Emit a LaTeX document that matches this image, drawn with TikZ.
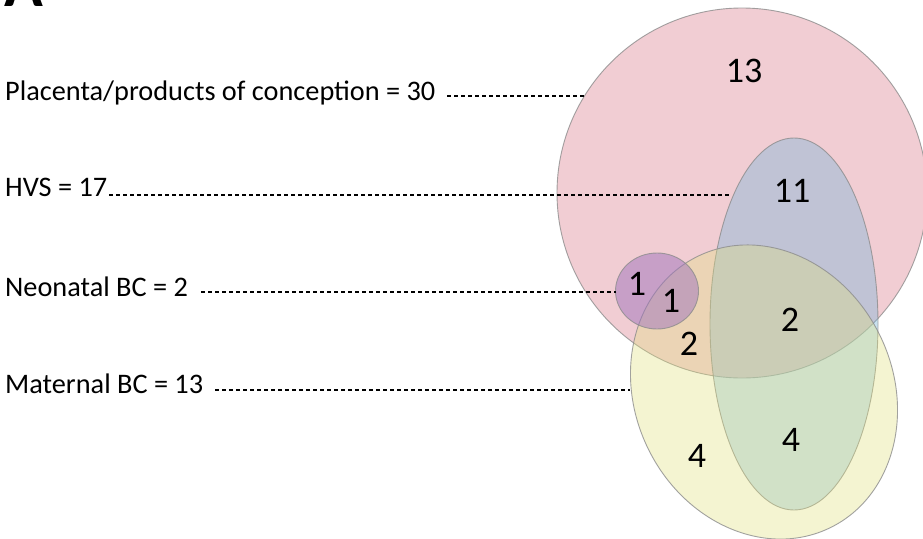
\documentclass[tikz,border=0pt]{standalone}
\usepackage{fontspec}
\setmainfont{Carlito}
\definecolor{cpink}{RGB}{222,130,145}
\definecolor{cblue}{RGB}{120,182,217}
\definecolor{cyel}{RGB}{226,226,126}
\definecolor{cpur}{RGB}{158,115,189}
\definecolor{edge}{RGB}{140,140,140}
\begin{document}
\begin{tikzpicture}[x=1pt,y=-1pt,
  setshape/.style={draw=edge,line width=0.9pt,draw opacity=0.8},
  lbl/.style={anchor=base west,inner sep=0pt,font=\fontsize{28.3}{34}\selectfont},
  num/.style={anchor=center,inner sep=0pt,font=\fontsize{36}{42}\selectfont},
  dline/.style={line width=1.4pt,dash pattern=on 4pt off 3pt}]
\clip (0,0) rectangle (923,538);
\fill[white] (0,0) rectangle (923,538);
% heading (cropped at the top edge, as in the reference)
\node[anchor=base west,inner sep=0pt,font=\fontsize{64}{70}\selectfont\bfseries] (head) at (4,6) {A};
% sets
\path[setshape,fill=cpink,fill opacity=0.4] (742,193) circle[radius=185];
\path[setshape,fill=cblue,fill opacity=0.4] (794,324) circle[x radius=84,y radius=186];
\path[setshape,fill=cyel,fill opacity=0.35,rotate around={26:(764,392)}] (764,392) circle[x radius=129,y radius=151];
\path[setshape,fill=cpur,fill opacity=0.5] (657,291) circle[x radius=41.5,y radius=38];
% labels
\node[lbl] (plac) at (5,100) {Placenta/products of conception = 30};
\node[lbl] (hvs) at (5,196) {HVS = 17};
\node[lbl] (neo) at (5,296) {Neonatal BC = 2};
\node[lbl] (mat) at (5,393) {Maternal BC = 13};
% leader lines
\coordinate (placS) at (447,96);  \coordinate (placE) at (585,96);
\coordinate (hvsS) at (109,195);  \coordinate (hvsE) at (731,195);
\coordinate (neoS) at (201,292);  \coordinate (neoE) at (616,292);
\coordinate (matS) at (215,390);  \coordinate (matE) at (630,390);
\draw[dline] (placS) -- (placE);
\draw[dline] (hvsS) -- (hvsE);
\draw[dline] (neoS) -- (neoE);
\draw[dline] (matS) -- (matE);
% counts
\node[num] (n13) at (744,71) {13};
\node[num] (n11) at (792,191) {11};
\node[num] (n1a) at (637,284) {1};
\node[num] (n1b) at (671,301) {1};
\node[num] (n2a) at (689,344) {2};
\node[num] (n2b) at (790,320) {2};
\node[num] (n4a) at (697,456) {4};
\node[num] (n4b) at (791,440) {4};
\end{tikzpicture}
\end{document}
